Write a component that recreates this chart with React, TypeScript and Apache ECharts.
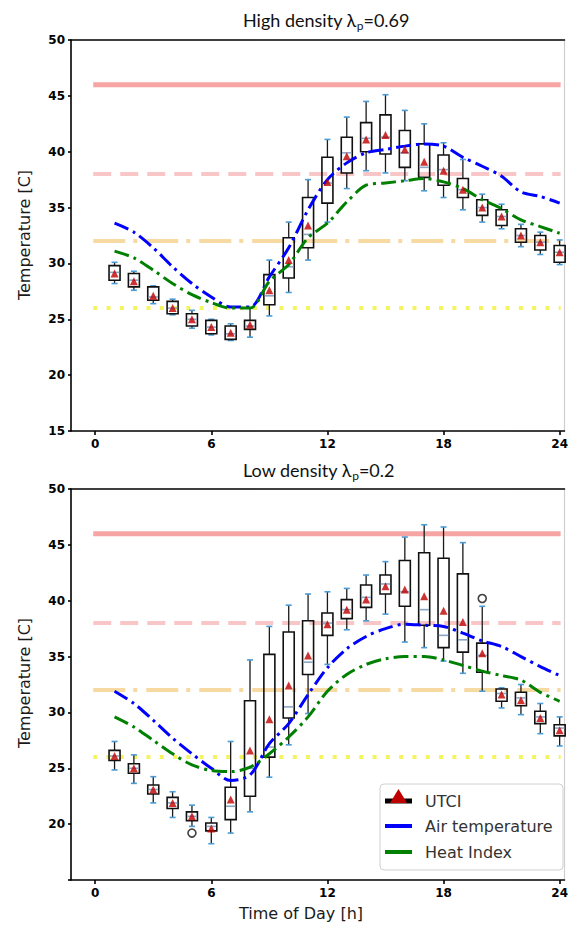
import React, { useEffect, useRef } from 'react';
import * as echarts from 'echarts';

// ---------- data ----------
const hours = [1, 2, 3, 4, 5, 6, 7, 8, 9, 10, 11, 12, 13, 14, 15, 16, 17, 18, 19, 20, 21, 22, 23, 24];
const xTicks = [0, 6, 12, 18, 24];
const thresholds = [46, 38, 32, 26];
const thresholdSpan = [-0.1, 24.05];

// High density
const hdWhiskHigh = [30.1, 29.3, 28.0, 26.8, 25.8, 25.0, 24.6, 26.0, 30.3, 33.7, 37.5, 41.1, 43.1, 44.5, 45.1, 43.7, 42.5, 40.8, 39.3, 36.2, 35.3, 33.5, 32.8, 32.1];
const hdQ3 = [29.8, 29.1, 27.9, 26.6, 25.5, 24.9, 24.4, 24.9, 29.0, 32.3, 35.9, 39.5, 41.3, 42.6, 43.3, 41.9, 40.7, 39.7, 37.6, 35.7, 34.8, 33.1, 32.5, 31.6];
const hdMedian = [29.2, 28.5, 27.0, 26.0, 25.0, 24.3, 23.7, 24.4, 27.1, 29.7, 32.6, 37.2, 39.9, 41.2, 41.3, 39.9, 38.6, 38.4, 36.6, 35.0, 34.2, 32.5, 31.9, 31.0];
const hdQ1 = [28.5, 27.9, 26.7, 25.5, 24.4, 23.7, 23.2, 24.1, 26.3, 28.7, 31.4, 35.4, 38.1, 40.0, 39.8, 38.6, 37.7, 37.0, 35.9, 34.3, 33.4, 31.9, 31.2, 30.1];
const hdWhiskLow = [28.2, 27.6, 26.4, 25.4, 24.2, 23.6, 23.1, 23.4, 25.3, 27.4, 30.3, 33.7, 36.7, 38.3, 38.1, 37.4, 36.5, 35.9, 34.8, 33.7, 33.1, 31.5, 30.8, 29.9];
const hdMean = [29.1, 28.4, 27.1, 26.0, 25.0, 24.3, 23.8, 24.5, 27.6, 30.3, 33.4, 37.3, 39.6, 41.1, 41.5, 40.2, 39.1, 38.3, 36.6, 35.0, 34.2, 32.5, 31.9, 31.0];
const hdAir = [33.6, 32.8, 31.4, 29.7, 28.2, 27.0, 26.1, 26.1, 28.8, 31.4, 34.8, 37.5, 39.0, 39.9, 40.2, 40.5, 40.7, 40.5, 39.5, 38.7, 37.8, 36.4, 36.0, 35.4];
const hdHeat = [31.1, 30.5, 29.4, 28.2, 27.2, 26.5, 26.0, 26.0, 28.4, 29.9, 32.3, 33.6, 35.5, 37.0, 37.2, 37.4, 37.6, 37.3, 36.7, 35.7, 34.9, 33.9, 33.3, 32.7];
const hdOutliers: number[][] = [];

// Low density
const ldWhiskHigh = [27.4, 26.2, 24.25, 22.9, 21.7, 20.6, 27.4, 34.7, 37.7, 39.6, 40.6, 40.8, 41.1, 42.3, 43.5, 45.7, 46.8, 46.6, 45.2, 39.5, 32.2, 32.5, 30.8, 29.6];
const ldQ3 = [26.6, 25.4, 23.5, 22.4, 21.1, 20.1, 23.3, 31.05, 35.2, 37.2, 38.2, 38.9, 40.1, 41.4, 42.3, 43.6, 44.3, 43.8, 42.4, 36.2, 32.1, 31.8, 30.1, 28.9];
const ldMedian = [26.1, 25.0, 23.1, 21.9, 20.7, 19.8, 21.6, 25.0, 26.9, 30.5, 34.5, 38.0, 39.2, 40.3, 41.5, 40.8, 39.2, 36.9, 36.5, 35.1, 31.7, 31.3, 29.6, 28.6];
const ldQ1 = [25.7, 24.55, 22.7, 21.4, 20.3, 19.4, 20.4, 22.5, 26.0, 29.5, 33.4, 36.9, 38.4, 39.4, 40.6, 39.5, 37.8, 35.8, 35.4, 33.6, 31.0, 30.6, 29.0, 27.9];
const ldWhiskLow = [24.85, 23.65, 21.9, 20.6, 19.8, 18.25, 19.2, 21.1, 24.2, 27.1, 29.9, 34.3, 37.4, 38.2, 38.8, 36.3, 35.8, 34.6, 33.5, 31.9, 30.4, 29.8, 28.1, 27.0];
const ldMean = [26.1, 25.0, 23.1, 21.9, 20.7, 19.6, 22.2, 26.6, 29.4, 32.4, 35.1, 37.9, 39.2, 40.1, 41.3, 41.0, 40.4, 39.1, 38.1, 35.3, 31.6, 31.1, 29.5, 28.4];
const ldAir = [31.9, 30.8, 29.3, 27.7, 26.3, 25.0, 23.9, 24.4, 27.2, 29.0, 31.6, 34.0, 35.7, 36.8, 37.5, 37.9, 37.8, 37.7, 37.1, 36.4, 35.9, 35.0, 34.1, 33.3];
const ldHeat = [29.6, 28.7, 27.5, 26.3, 25.3, 24.8, 24.7, 25.1, 26.3, 27.8, 29.6, 31.9, 33.4, 34.3, 34.8, 35.0, 35.0, 34.7, 34.2, 33.7, 33.3, 32.9, 31.8, 31.0];
const ldOutliers = [[5, 19.2], [20, 40.2]];

// ---------- styles ----------
const thresholdStyles = [
  { color: '#f6a4a4', width: 5, type: 'solid' as any },
  { color: '#f8c6c6', width: 4, type: [18, 9] as any },
  { color: '#f7d9a2', width: 4, type: [32, 8, 4, 9] as any },
  { color: '#f4f45e', width: 4, type: [4, 9.3] as any },
];

const tickFont = { fontFamily: 'DejaVu Sans', fontWeight: 'bold' as any, fontSize: 12, color: '#000' };

function renderBox(params: any, api: any) {
  const x = api.value(0);
  const lo = api.coord([x, api.value(1)]);
  const q1 = api.coord([x, api.value(2)]);
  const med = api.coord([x, api.value(3)]);
  const q3 = api.coord([x, api.value(4)]);
  const hi = api.coord([x, api.value(5)]);
  const cx = lo[0];
  const hw = 5.5;
  const cw = 3;
  return {
    type: 'group',
    children: [
      { type: 'line', shape: { x1: cx, y1: q3[1], x2: cx, y2: hi[1] }, style: { stroke: '#1a1a1a', lineWidth: 1.3 } },
      { type: 'line', shape: { x1: cx, y1: q1[1], x2: cx, y2: lo[1] }, style: { stroke: '#1a1a1a', lineWidth: 1.3 } },
      { type: 'line', shape: { x1: cx - cw, y1: hi[1], x2: cx + cw, y2: hi[1] }, style: { stroke: '#4a9bd6', lineWidth: 1.6 } },
      { type: 'line', shape: { x1: cx - cw, y1: lo[1], x2: cx + cw, y2: lo[1] }, style: { stroke: '#4a9bd6', lineWidth: 1.6 } },
      { type: 'rect', shape: { x: cx - hw, y: q3[1], width: hw * 2, height: q1[1] - q3[1] }, style: { fill: 'none', stroke: '#111', lineWidth: 1.6 } },
      { type: 'line', shape: { x1: cx - hw + 0.8, y1: med[1], x2: cx + hw - 0.8, y2: med[1] }, style: { stroke: '#8aa6c4', lineWidth: 1.6 } },
    ],
  };
}

function panel(i: number, lo: number[], q1: number[], med: number[], q3: number[], hi: number[], mean: number[], air: number[], heat: number[], outl: number[][]) {
  const xi = i * 2;
  const yi = i * 2;
  const s: any[] = [];
  thresholds.forEach((t, k) => {
    const st = thresholdStyles[k];
    s.push({
      type: 'line', xAxisIndex: xi, yAxisIndex: yi, symbol: 'none', silent: true, z: 1,
      data: [[thresholdSpan[0], t], [thresholdSpan[1], t]],
      lineStyle: { color: st.color, width: st.width, type: st.type, cap: 'butt' },
    });
  });
  s.push({
    type: 'custom', xAxisIndex: xi, yAxisIndex: yi, z: 3,
    renderItem: renderBox,
    encode: { x: 0, y: [1, 2, 3, 4, 5] },
    data: hours.map((h, k) => [h, lo[k], q1[k], med[k], q3[k], hi[k]]),
  });
  s.push({
    type: 'line', xAxisIndex: xi, yAxisIndex: yi, symbol: 'none', z: 4, smooth: 0.3,
    data: hours.map((h, k) => [h, air[k]]),
    lineStyle: { color: '#0000ff', width: 3, type: [15, 5, 3, 5] },
  });
  s.push({
    type: 'line', xAxisIndex: xi, yAxisIndex: yi, symbol: 'none', z: 4, smooth: 0.3,
    data: hours.map((h, k) => [h, heat[k]]),
    lineStyle: { color: '#008000', width: 3, type: [15, 5, 3, 5] },
  });
  s.push({
    type: 'scatter', xAxisIndex: xi, yAxisIndex: yi, z: 5, symbol: 'triangle', symbolSize: 8,
    itemStyle: { color: '#c00000' },
    data: hours.map((h, k) => [h, mean[k]]),
  });
  if (outl.length) {
    s.push({
      type: 'scatter', xAxisIndex: xi, yAxisIndex: yi, z: 5, symbol: 'circle', symbolSize: 8,
      itemStyle: { color: '#fff', borderColor: '#111', borderWidth: 1.6 },
      data: outl,
    });
  }
  return s;
}

function axesFor(i: number) {
  const xs = [
    {
      gridIndex: i, type: 'value', min: -1.25, max: 24.25, position: 'bottom',
      axisLine: { show: true, onZero: false, lineStyle: { color: '#000', width: 1.6 } },
      axisTick: { show: true, customValues: xTicks, length: 4, lineStyle: { color: '#000', width: 1.6 } },
      axisLabel: { show: true, customValues: xTicks, margin: 7, ...tickFont },
      splitLine: { show: false },
    },
    {
      gridIndex: i, type: 'value', min: -1.25, max: 24.25, position: 'top',
      axisLine: { show: true, onZero: false, lineStyle: { color: '#000', width: 1.6 } },
      axisTick: { show: false }, axisLabel: { show: false }, splitLine: { show: false },
    },
  ];
  const ys = [
    {
      gridIndex: i, type: 'value', min: 15, max: 50, interval: 5, position: 'left',
      axisLine: { show: true, onZero: false, lineStyle: { color: '#000', width: 1.6 } },
      axisTick: { show: true, length: 3, lineStyle: { color: '#000', width: 1.6 } },
      axisLabel: {
        show: true, margin: 6, ...tickFont,
        formatter: (v: number) => (i === 1 && v === 15 ? '' : String(v)),
      },
      splitLine: { show: false },
    },
    {
      gridIndex: i, type: 'value', min: 15, max: 50, interval: 5, position: 'right',
      axisLine: { show: true, onZero: false, lineStyle: { color: '#cfcfcf', width: 1.2 } },
      axisTick: { show: false }, axisLabel: { show: false }, splitLine: { show: false },
    },
  ];
  return { xs, ys };
}

const titleRich = {
  n: { fontSize: 18, fontFamily: 'Lato', fill: '#111', lineHeight: 22 },
  s: { fontSize: 12, fontFamily: 'Lato', fill: '#111', lineHeight: 12, verticalAlign: 'bottom' },
};

export default function App() {
  const ref = useRef<HTMLDivElement>(null);
  useEffect(() => {
    const chart = echarts.init(ref.current!, null, { renderer: 'svg' });
    const a0 = axesFor(0);
    const a1 = axesFor(1);
    const option: any = {
      animation: false,
      backgroundColor: '#fff',
      grid: [
        { left: 71, top: 40, width: 497, height: 391 },
        { left: 71, top: 489, width: 497, height: 391 },
      ],
      xAxis: [...a0.xs, ...a1.xs],
      yAxis: [...a0.ys, ...a1.ys],
      series: [
        ...panel(0, hdWhiskLow, hdQ1, hdMedian, hdQ3, hdWhiskHigh, hdMean, hdAir, hdHeat, hdOutliers),
        ...panel(1, ldWhiskLow, ldQ1, ldMedian, ldQ3, ldWhiskHigh, ldMean, ldAir, ldHeat, ldOutliers),
      ],
      graphic: [
        { type: 'text', x: 243, y: 20, style: { text: '{n|High density λ}{s|p}{n|=0.69}', rich: titleRich, textVerticalAlign: 'middle', textAlign: 'left' } },
        { type: 'text', x: 243, y: 470, style: { text: '{n|Low density λ}{s|p}{n|=0.2}', rich: titleRich, textVerticalAlign: 'middle', textAlign: 'left' } },
        { type: 'text', x: 24, y: 235, rotation: Math.PI / 2, style: { text: 'Temperature [C]', font: '16px "DejaVu Sans"', fill: '#1a1a1a', textAlign: 'center', textVerticalAlign: 'middle' } },
        { type: 'text', x: 24, y: 683, rotation: Math.PI / 2, style: { text: 'Temperature [C]', font: '16px "DejaVu Sans"', fill: '#1a1a1a', textAlign: 'center', textVerticalAlign: 'middle' } },
        { type: 'text', x: 301, y: 913, style: { text: 'Time of Day [h]', font: '16px "DejaVu Sans"', fill: '#1a1a1a', textAlign: 'center', textVerticalAlign: 'middle' } },
        // legend
        { type: 'rect', shape: { x: 380, y: 784, width: 183, height: 86, r: 4 }, style: { fill: 'rgba(255,255,255,0.85)', stroke: '#d0d0d0', lineWidth: 1 }, z: 10 },
        { type: 'line', shape: { x1: 385, y1: 801, x2: 412, y2: 801 }, style: { stroke: '#000', lineWidth: 5 }, z: 11 },
        { type: 'polygon', shape: { points: [[398.5, 789], [390, 803], [407, 803]] }, style: { fill: '#c00000' }, z: 12 },
        { type: 'text', x: 425, y: 801, style: { text: 'UTCI', font: '16px "DejaVu Sans"', fill: '#333', textVerticalAlign: 'middle' }, z: 11 },
        { type: 'line', shape: { x1: 385, y1: 826, x2: 412, y2: 826 }, style: { stroke: '#0000ff', lineWidth: 4 }, z: 11 },
        { type: 'text', x: 425, y: 826, style: { text: 'Air temperature', font: '16px "DejaVu Sans"', fill: '#333', textVerticalAlign: 'middle' }, z: 11 },
        { type: 'line', shape: { x1: 385, y1: 852, x2: 412, y2: 852 }, style: { stroke: '#008000', lineWidth: 4 }, z: 11 },
        { type: 'text', x: 425, y: 852, style: { text: 'Heat Index', font: '16px "DejaVu Sans"', fill: '#333', textVerticalAlign: 'middle' }, z: 11 },
      ],
    };
    chart.setOption(option);
    return () => chart.dispose();
  }, []);
  return <div ref={ref} style={{ position: 'absolute', left: 0, top: 0, width: 571, height: 926 }} />;
}
